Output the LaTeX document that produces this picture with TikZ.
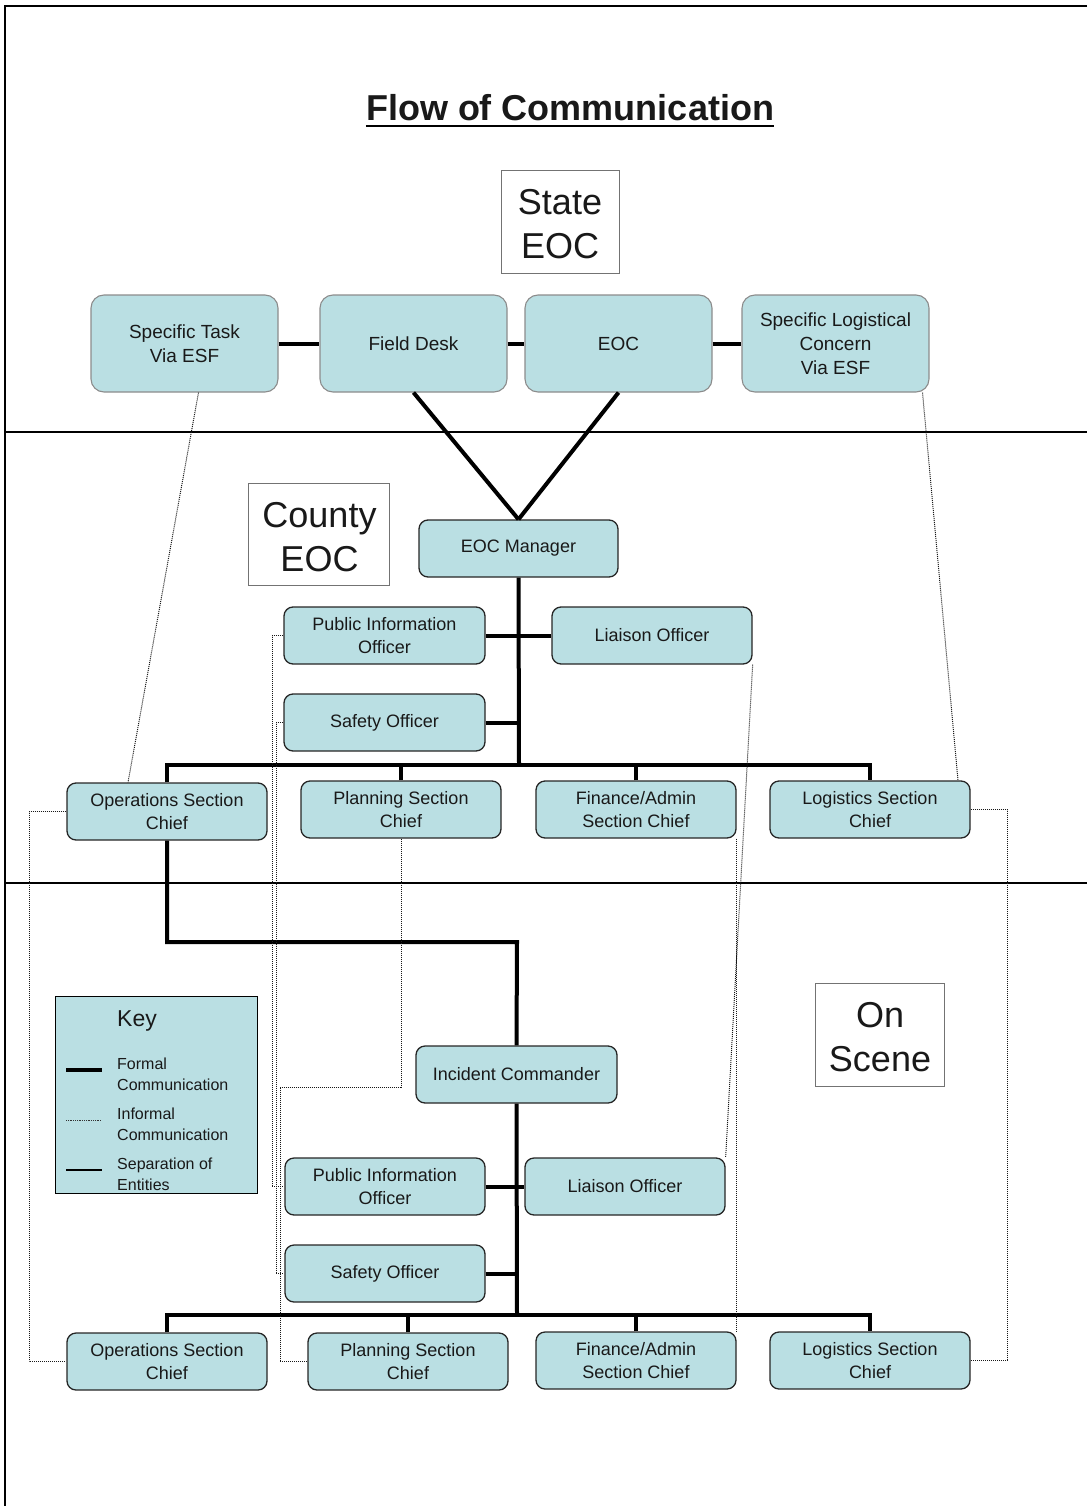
\documentclass[tikz,border=0pt]{standalone}
\usepackage{fontspec}
\setmainfont{Liberation Sans}
\definecolor{boxfill}{RGB}{186,223,227}
\definecolor{txt}{RGB}{25,25,25}
\tikzset{
  rbox/.style={draw=black!85, line width=1.3pt, fill=boxfill, rounded corners=9pt,
    minimum width=200pt, minimum height=57pt, align=center, inner sep=2pt,
    text=txt, font=\fontsize{18}{23}\selectfont},
  sbox/.style={rbox, draw=black!45, line width=1.1pt, minimum width=187pt,
    minimum height=97pt, rounded corners=13pt, font=\fontsize{19}{24}\selectfont},
  lblbox/.style={draw=black!55, line width=0.8pt, fill=white, align=center,
    inner sep=0pt, text=txt, font=\fontsize{36}{44}\selectfont},
  lbltext/.style={inner sep=0pt, align=center, text=txt, font=\fontsize{36}{44}\selectfont},
  formal/.style={line width=4pt},
  informal/.style={line width=1pt, dash pattern=on 1pt off 1pt, black!90},
  sepline/.style={line width=1.4pt},
  keytxt/.style={anchor=west, align=left, inner sep=0pt, text=txt,
    font=\fontsize{16}{21}\selectfont}
}
\begin{document}
\begin{tikzpicture}[x=1pt,y=-1pt]
\useasboundingbox (0,0) rectangle (1087,1506);
% frame
\coordinate (fTL) at (5,6);
\coordinate (fTR) at (1087,6);
\coordinate (fBL) at (5,1506);
\draw[line width=2.4pt] (fTR) -- (fTL) -- (fBL);
% separators
\coordinate (s1L) at (5,432);  \coordinate (s1R) at (1087,432);
\coordinate (s2L) at (5,883);  \coordinate (s2R) at (1087,883);
\draw[sepline] (s1L) -- (s1R);
\draw[sepline] (s2L) -- (s2R);

% title
\node[anchor=base, inner sep=0pt, text=txt, font=\fontsize{36}{40}\selectfont\bfseries]
  (title) at (570,121) {Flow of Communication};
\draw[line width=2.6pt] ([yshift=-5pt]title.base west) -- ([yshift=-5pt]title.base east);

% labels
\node[draw=black!55, line width=0.8pt, fill=white, minimum width=118pt, minimum height=103pt] (stlbl) at (560,221.5) {};
\node[lbltext] (stlbltxt) at (560,224.5) {State\\EOC};
\node[draw=black!55, line width=0.8pt, fill=white, minimum width=141pt, minimum height=102pt] (colbl) at (318.5,534) {};
\node[lbltext] (colbltxt) at (319.5,537) {County\\EOC};
\node[draw=black!55, line width=0.8pt, fill=white, minimum width=129pt, minimum height=103pt] (oslbl) at (879.5,1034.5) {};
\node[lbltext] (oslbltxt) at (880,1037.5) {On\\Scene};

% state row
\node[sbox] (st)  at (184.5,343.5) {Specific Task\\Via ESF};
\node[sbox] (fd)  at (413.5,343.5) {Field Desk};
\node[sbox] (eoc) at (618.5,343.5) {EOC};
\node[sbox] (slc) at (835.5,343.5) {Specific Logistical\\Concern\\Via ESF};
\draw[formal] (st.east) -- (fd.west);
\draw[formal] (fd.east) -- (eoc.west);
\draw[formal] (eoc.east) -- (slc.west);

% county
\node[rbox, minimum width=199pt] (mgr) at (518.5,548.5) {EOC Manager};
\node[rbox, minimum width=201pt] (cpio) at (384.5,635.5) {Public Information\\Officer};
\node[rbox] (cliai) at (652,635.5) {Liaison Officer};
\node[rbox, minimum width=201pt] (csaf) at (384.5,722.5) {Safety Officer};
\node[rbox] (cops)  at (167,811.5) {Operations Section\\Chief};
\node[rbox] (cplan) at (401,809.5) {Planning Section\\Chief};
\node[rbox] (cfin)  at (636,809.5) {Finance/Admin\\Section Chief};
\node[rbox] (clog)  at (870,809.5) {Logistics Section\\Chief};

\draw[formal] (fd.south) -- (mgr.north);
\draw[formal] (eoc.south) -- (mgr.north);
\coordinate (cbus) at (519,765);
\draw[formal] (mgr.south) -- (cbus);
\draw[formal] (cops.north) |- (cbus) -| (clog.north);
\draw[formal] (cplan.north) -- (cplan.north |- cbus);
\draw[formal] (cfin.north) -- (cfin.north |- cbus);
\draw[formal] (cpio.east) -- (cliai.west);
\draw[formal] (csaf.east) -- (csaf.east -| cbus);

% on scene
\node[rbox, minimum width=201pt] (ic) at (516.5,1074.5) {Incident Commander};
\node[rbox] (opio)  at (385,1186.5) {Public Information\\Officer};
\node[rbox] (oliai) at (625,1186.5) {Liaison Officer};
\node[rbox] (osaf)  at (385,1273.5) {Safety Officer};
\node[rbox] (oops)  at (167,1361.5) {Operations Section\\Chief};
\node[rbox] (oplan) at (408,1361.5) {Planning Section\\Chief};
\node[rbox] (ofin)  at (636,1360.5) {Finance/Admin\\Section Chief};
\node[rbox] (olog)  at (870,1360.5) {Logistics Section\\Chief};

\coordinate (jog) at (517,942);
\draw[formal] (cops.south) |- (jog) -- (ic.north);
\coordinate (obus) at (517,1315);
\draw[formal] (ic.south) -- (obus);
\draw[formal] (oops.north) |- (obus) -| (olog.north);
\draw[formal] (oplan.north) -- (oplan.north |- obus);
\draw[formal] (ofin.north) -- (ofin.north |- obus);
\draw[formal] (opio.east) -- (oliai.west);
\draw[formal] (osaf.east) -- (osaf.east -| obus);

% informal links
\draw[informal] ([xshift=14pt]st.south) -- ([xshift=-39pt]cops.north);
\draw[informal] ([xshift=87pt]slc.south) -- ([xshift=88pt]clog.north);
\draw[informal] (cliai.south east) -- (oliai.north east);
\draw[informal] (cfin.south east) -- (ofin.north east);
\draw[informal] (cpio.west) -- ++(-11,0) |- (opio.west);
\draw[informal] (csaf.west) -- ++(-7,0) |- (osaf.west);
\coordinate (pj) at (280,1087);
\draw[informal] (cplan.south) |- (pj) |- (oplan.west);
\draw[informal] (cops.west) -- ++(-37,0) |- (oops.west);
\draw[informal] (clog.east) -- ++(37,0) |- (olog.east);

% key
\node[draw=black, line width=1pt, fill=boxfill, minimum width=202pt, minimum height=197pt,
  inner sep=0pt] (key) at (156,1094.5) {};
\node[anchor=base west, inner sep=0pt, text=txt, font=\fontsize{23}{26}\selectfont]
  (keyt) at (117,1026) {Key};
\coordinate (k1a) at (66,1070); \coordinate (k1b) at (102,1070);
\coordinate (k2a) at (66,1120); \coordinate (k2b) at (101,1120);
\coordinate (k3a) at (66,1170); \coordinate (k3b) at (102,1170);
\draw[formal] (k1a) -- (k1b);
\draw[line width=0.8pt, dash pattern=on 0.9pt off 0.9pt, black!80] (k2a) -- (k2b);
\draw[line width=1.2pt] (k3a) -- (k3b);
\node[keytxt] (kt1) at (117,1074.5) {Formal\\Communication};
\node[keytxt] (kt2) at (117,1124.5) {Informal\\Communication};
\node[keytxt] (kt3) at (117,1174.5) {Separation of\\Entities};
\end{tikzpicture}
\end{document}
